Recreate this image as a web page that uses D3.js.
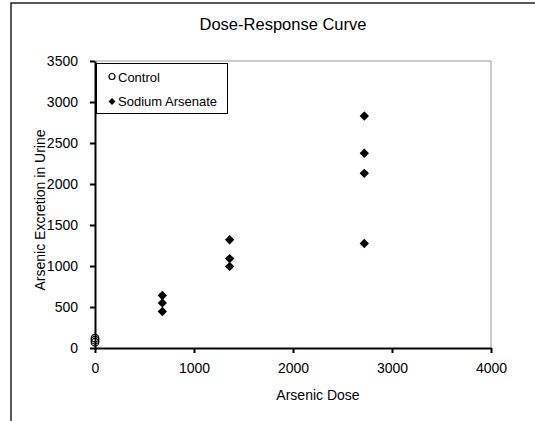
<!DOCTYPE html>
<html><head><meta charset="utf-8">
<script src="https://cdn.jsdelivr.net/npm/d3@7"></script>
<style>body{margin:0;background:#fff}svg{display:block}text{font-family:"Liberation Sans",Arial,sans-serif;fill:#000}</style>
</head><body><svg id="c" width="535" height="421"></svg>
<script>
const title = "Dose-Response Curve";
const xTitle = "Arsenic Dose";
const yTitle = "Arsenic Excretion in Urine";
const seriesNames = ["Control", "Sodium Arsenate"];
const controlDose = [0, 0, 0];
const controlResp = [120, 95, 70];
const arsenateDose = [680, 680, 680, 1360, 1360, 1360, 2720, 2720, 2720, 2720];
const arsenateResp = [640, 550, 445, 1320, 1090, 995, 2830, 2375, 2130, 1275];
const xTicks = [0, 1000, 2000, 3000, 4000];
const yTicks = [0, 500, 1000, 1500, 2000, 2500, 3000, 3500];

const svg = d3.select("#c");
const L = 95, R = 491, T = 61, B = 348;
const x = d3.scaleLinear().domain([0, 4000]).range([L, R]);
const y = d3.scaleLinear().domain([0, 3500]).range([B, T]);

// outer frame
svg.append("rect").attr("x", 11).attr("y", 3).attr("width", 540).attr("height", 440)
  .attr("fill", "none").attr("stroke", "#222").attr("stroke-width", 1.5);

svg.append("text").attr("x", 283).attr("y", 30).attr("text-anchor", "middle")
  .style("font-size", "16.5px").text(title);

// plot frame (top & right gray)
svg.append("path").attr("d", `M${L},${T}H${R}V${B}`).attr("fill", "none")
  .attr("stroke", "#999").attr("stroke-width", 1);

const xa = svg.append("g").attr("transform", `translate(0,${B})`)
  .call(d3.axisBottom(x).tickValues(xTicks).tickSize(5).tickSizeOuter(0).tickPadding(10).tickFormat(d3.format("d")));
const ya = svg.append("g").attr("transform", `translate(${L},0)`)
  .call(d3.axisLeft(y).tickValues(yTicks).tickSize(5).tickSizeOuter(0).tickPadding(12).tickFormat(d3.format("d")));
[xa, ya].forEach(a => {
  a.attr("font-size", 14).attr("font-family", '"Liberation Sans",Arial,sans-serif');
  a.select(".domain").attr("stroke", "#000").attr("stroke-width", 2);
  a.selectAll(".tick line").attr("stroke", "#000").attr("stroke-width", 2);
  a.selectAll(".tick text").style("font-size", "14px").attr("fill", "#000");
});

svg.append("text").attr("x", 318).attr("y", 400).attr("text-anchor", "middle")
  .style("font-size", "14px").text(xTitle);
svg.append("text").attr("transform", "translate(45,210) rotate(-90)").attr("text-anchor", "middle")
  .style("font-size", "14px").text(yTitle);

const diamond = d3.symbol().type(d3.symbolDiamond2).size(56);

// control circles
svg.append("g").selectAll("circle").data(controlDose.map((d, i) => [d, controlResp[i]]))
  .join("circle").attr("cx", d => x(d[0])).attr("cy", d => y(d[1])).attr("r", 3.8)
  .attr("fill", "none").attr("stroke", "#000").attr("stroke-width", 1.2);

svg.append("g").selectAll("path").data(arsenateDose.map((d, i) => [d, arsenateResp[i]]))
  .join("path").attr("d", diamond).attr("transform", d => `translate(${x(d[0])},${y(d[1])})`)
  .attr("fill", "#000");

// legend
const lg = svg.append("g");
lg.append("rect").attr("x", 96.5).attr("y", 63.5).attr("width", 131).attr("height", 50)
  .attr("fill", "#fff").attr("stroke", "#000").attr("stroke-width", 1);
lg.append("circle").attr("cx", 112).attr("cy", 76.5).attr("r", 3).attr("fill", "none").attr("stroke", "#000").attr("stroke-width", 1.2);
lg.append("text").attr("x", 118).attr("y", 81.5).style("font-size", "13px").text(seriesNames[0]);
lg.append("path").attr("d", d3.symbol().type(d3.symbolDiamond2).size(30)).attr("transform", "translate(112,101.5)").attr("fill", "#000");
lg.append("text").attr("x", 118).attr("y", 106).style("font-size", "13px").text(seriesNames[1]);
</script></body></html>
